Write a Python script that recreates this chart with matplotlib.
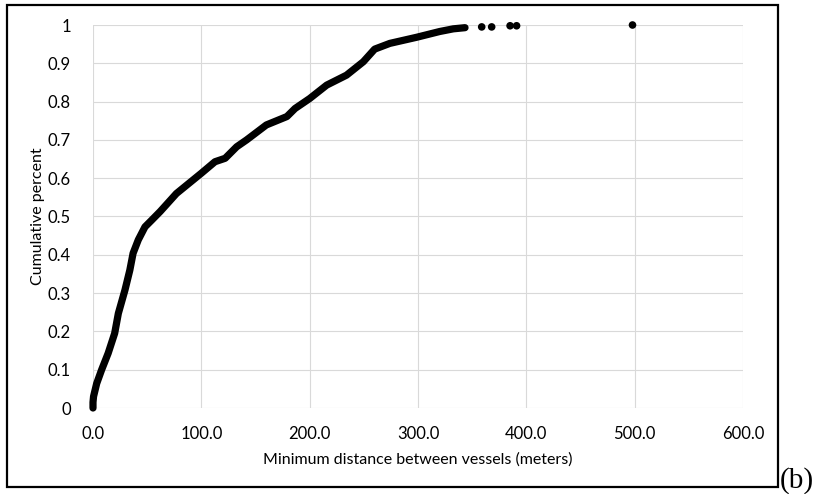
import matplotlib
matplotlib.use('Agg')
import matplotlib.pyplot as plt
from matplotlib.patches import Rectangle

# Кривая накопленного процента (точки)
distance = [0, 0, 0.5, 3.4, 8, 14, 20, 23.4, 29.5, 34, 37, 41.8, 48, 54, 62, 77,
            100, 112.6, 122, 132.6, 141.8, 160, 179, 186.5, 200, 215.7, 234,
            249.5, 260, 274, 298.8, 320, 332.6, 343.4]
cum_percent = [0, 0.015, 0.03, 0.064, 0.10, 0.143, 0.195, 0.247, 0.308, 0.36,
               0.404, 0.439, 0.473, 0.49, 0.513, 0.56, 0.613, 0.643, 0.652,
               0.682, 0.70, 0.739, 0.761, 0.782, 0.808, 0.843, 0.869, 0.904,
               0.937, 0.952, 0.968, 0.983, 0.990, 0.993]

# Отдельные точки в хвосте
tail_distance = [358.8, 368, 385, 391, 498]
tail_percent = [0.995, 0.995, 0.998, 0.998, 1.0]

x_ticks = [0, 100, 200, 300, 400, 500, 600]
y_ticks = [0, 0.1, 0.2, 0.3, 0.4, 0.5, 0.6, 0.7, 0.8, 0.9, 1]
y_tick_labels = ['0', '0.1', '0.2', '0.3', '0.4', '0.5', '0.6', '0.7', '0.8', '0.9', '1']

plt.rcParams['font.family'] = ['Lato', 'DejaVu Sans']

fig = plt.figure(figsize=(8.24, 4.94), dpi=100)
ax = fig.add_axes([93 / 824, 1 - 408 / 494, 650 / 824, 383 / 494])

ax.plot(distance, cum_percent, color='black', lw=5.2, solid_capstyle='round',
        solid_joinstyle='round', zorder=3, clip_on=False)
ax.scatter(tail_distance, tail_percent, color='black', s=30, edgecolors='none',
           zorder=3, clip_on=False)

ax.set_xlim(0, 600)
ax.set_ylim(0, 1)
ax.set_xticks(x_ticks)
ax.set_xticklabels(['%.1f' % t for t in x_ticks])
ax.set_yticks(y_ticks)
ax.set_yticklabels(y_tick_labels)
ax.grid(True, color='#d9d9d9', lw=0.8)
ax.set_axisbelow(True)
for s in ax.spines.values():
    s.set_visible(False)
ax.tick_params(length=0, labelsize=12, pad=13)
ax.tick_params(axis='y', pad=16)

ax.set_xlabel('Minimum distance between vessels (meters)', fontsize=11.5, va='center')
ax.set_ylabel('Cumulative percent', fontsize=11.5, va='center')
ax.xaxis.set_label_coords(0.5, -(460 - 408) / 383)
ax.yaxis.set_label_coords((38 - 93) / 650, 0.5)

# Рамка вокруг диаграммы
fig.patches.append(Rectangle((7 / 824, 1 - 487 / 494), 771 / 824, 482 / 494,
                             transform=fig.transFigure, fill=False,
                             edgecolor='black', lw=1.6))

fig.text(780 / 824, 1 - 488 / 494, '(b)', fontsize=21, family='Liberation Serif',
         ha='left', va='baseline')

fig.savefig('out.png', dpi=100)
